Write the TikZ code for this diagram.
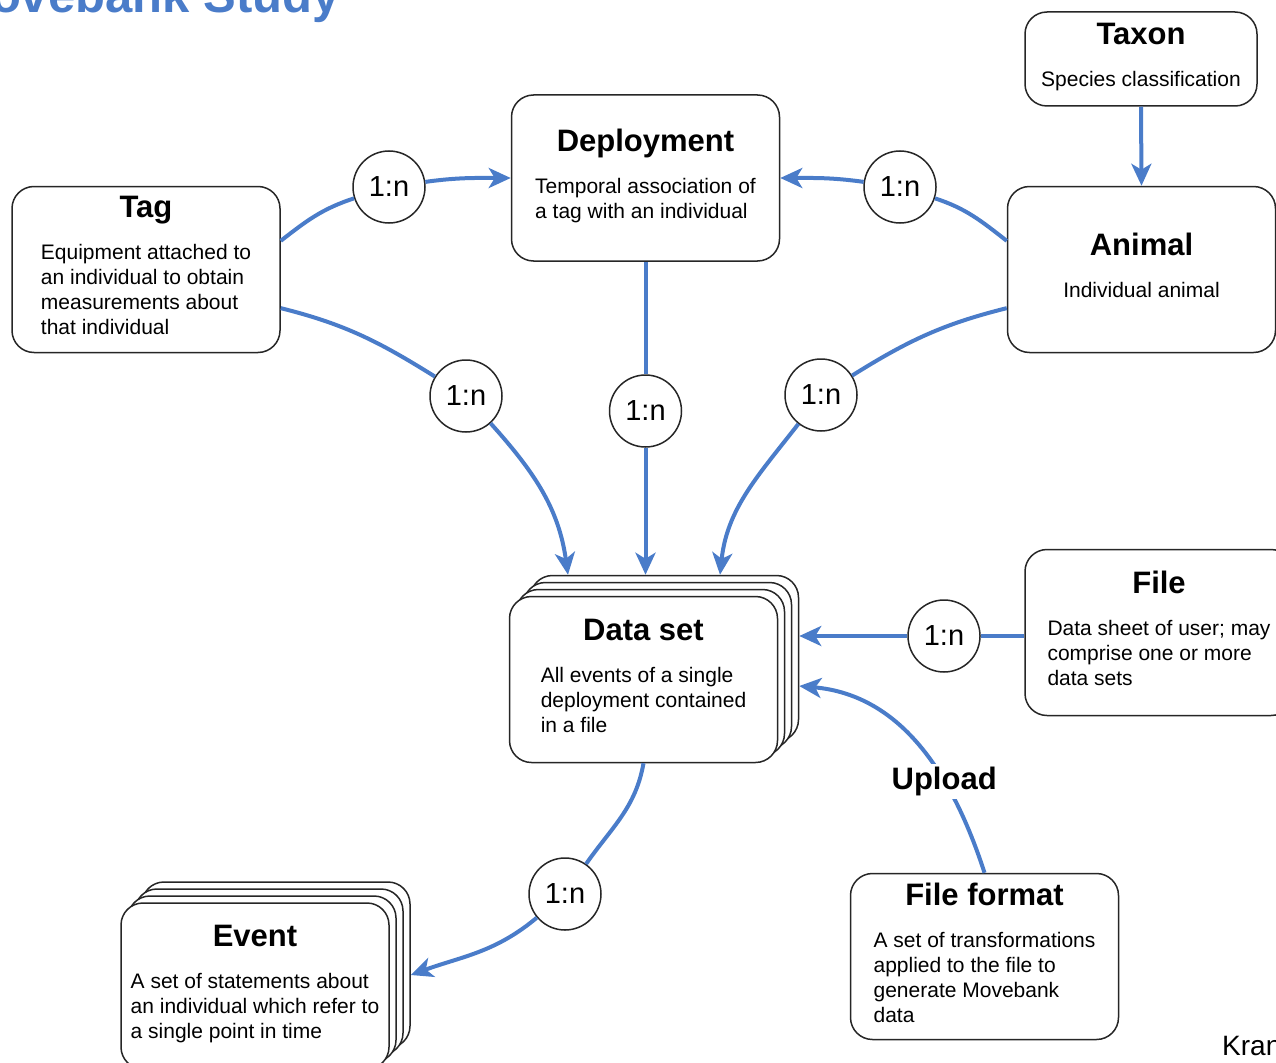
\documentclass[tikz,border=0pt]{standalone}
\usepackage{fontspec}
\setmainfont{Liberation Sans}
\usetikzlibrary{positioning,arrows.meta,calc}
\definecolor{linkblue}{HTML}{4A7CC9}
\newcommand{\ntitle}[1]{{\fontsize{31}{37}\selectfont\bfseries #1}}
\newcommand{\nbody}[1]{\begin{tabular}[t]{@{}l@{}}#1\end{tabular}}

\begin{document}
\begin{tikzpicture}[x=1pt, y=1pt,
    box/.style={rectangle, rounded corners=22pt, draw=black!85, line width=1.5pt, fill=white, minimum width=268pt, minimum height=166pt, inner sep=0pt, align=center, font=\fontsize{21}{25}\selectfont},
    ring/.style={circle, draw=black!85, line width=1.5pt, fill=white, minimum size=72pt, inner sep=0pt, font=\fontsize{29}{34}\selectfont},
    link/.style={draw=linkblue, line width=4pt},
    arrow/.style={link, -{Stealth[length=22pt, width=20pt, inset=6pt]}}
]
    \useasboundingbox (0,0) rectangle (1276,-1062);

    % Title and credit (cut by the page edge)
    \node[anchor=base west, inner sep=0pt, text=linkblue, font=\fontsize{49}{59}\selectfont\bfseries] (title) at (-50,-13) {Movebank Study};
    \node[anchor=base west, inner sep=0pt, font=\fontsize{28}{34}\selectfont] (credit) at (1222,-1055) {Kran};

    % Nodes
    \node[box, minimum width=232pt, minimum height=94pt] (taxon) at (1141,-59) {\ntitle{Taxon}\\[17pt]\nbody{Species classification}};
    \node[box] (deploy) at (645.5,-178) {\ntitle{Deployment}\\[17pt]\nbody{Temporal association of\\a tag with an individual}};
    \node[box] (tag) at (146,-269.5) {\ntitle{Tag}\\[17pt]\nbody{Equipment attached to\\an individual to obtain\\measurements about\\that individual}};
    \node[box] (animal) at (1141.5,-269.5) {\ntitle{Animal}\\[17pt]\nbody{Individual animal}};
    \node[box] (file) at (1159,-632.5) {\ntitle{File}\\[17pt]\nbody{Data sheet of user; may\\comprise one or more\\data sets}};
    \node[box] (format) at (984.5,-956.5) {\ntitle{File format}\\[17pt]\nbody{A set of transformations\\applied to the file to\\generate Movebank\\data}};

    % Stacked nodes
    \foreach \k in {3,2,1}
        \node[box] (ds\k) at ([shift={(7*\k,7*\k)}]643.5,-679.5) {};
    \node[box] (ds) at (643.5,-679.5) {\ntitle{Data set}\\[17pt]\nbody{All events of a single\\deployment contained\\in a file}};
    \foreach \k in {3,2,1}
        \node[box] (ev\k) at ([shift={(7*\k,7*\k)}]255,-986) {};
    \node[box] (ev) at (255,-986) {\ntitle{Event}\\[17pt]\nbody{A set of statements about\\an individual which refer to\\a single point in time}};

    % Cardinality rings
    \node[ring] (c1) at (389,-187) {1:n};
    \node[ring] (c2) at (900,-187) {1:n};
    \node[ring] (c3) at (466,-396) {1:n};
    \node[ring] (c4) at (645.5,-411) {1:n};
    \node[ring] (c5) at (821,-395) {1:n};
    \node[ring] (c6) at (944,-636) {1:n};
    \node[ring] (c7) at (565,-894) {1:n};

    % Connectors
    \draw[arrow] (taxon.south) -- (animal.north);
    \draw[link] (tag.12) to[out=38, in=198] (c1);
    \draw[arrow] (c1) to[out=8, in=180] (deploy.west);
    \draw[link] (animal.168) to[out=142, in=-18] (c2);
    \draw[arrow] (c2) to[out=172, in=0] (deploy.east);
    \draw[link] (tag.344) to[out=-14, in=148] (c3);
    \draw[arrow] (c3) to[out=-48, in=98] ([xshift=-96.5pt]ds3.north);
    \draw[link] (deploy.south) -- (c4);
    \draw[arrow] (c4) -- (c4 |- ds3.north);
    \draw[link] (animal.196) to[out=194, in=32] (c5);
    \draw[arrow] (c5) to[out=-128, in=84] ([xshift=55.5pt]ds3.north);
    \draw[link] (c6 -| file.west) -- (c6);
    \draw[arrow] (c6) -- (c6 -| ds3.east);
    \draw[arrow] (format.north) to[out=108, in=-5] node[pos=0.34, fill=white, inner sep=3pt, font=\fontsize{31}{37}\selectfont\bfseries] (upload) {Upload} ([yshift=-27.5pt]ds3.east);
    \draw[link] (ds.south) to[out=-100, in=55] (c7);
    \draw[arrow] (c7) to[out=-140, in=20] ([yshift=-10pt]ev3.east);
\end{tikzpicture}
\end{document}
